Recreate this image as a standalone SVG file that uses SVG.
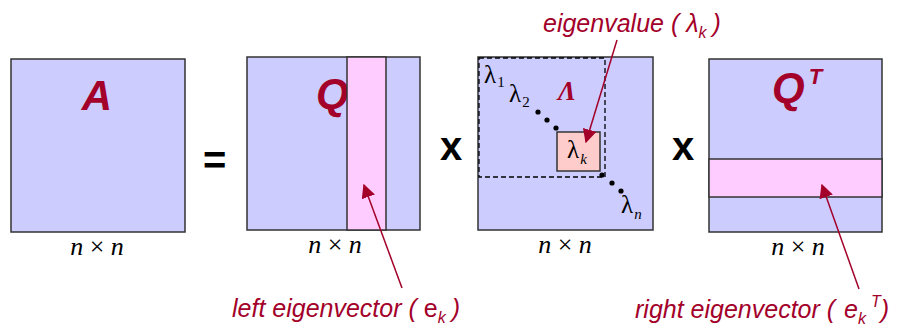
<svg xmlns="http://www.w3.org/2000/svg" width="905" height="333" viewBox="0 0 905 333">
<style>
.mat{fill:#CCCCFF;stroke:#333;stroke-width:1.5}
.strip{fill:#FFCCFF;stroke:#333;stroke-width:1.5}
.big{font-family:"Liberation Sans",Arial,sans-serif;font-weight:bold;font-style:italic;font-size:42px;fill:#A3002A}
.op{font-family:"Liberation Sans",Arial,sans-serif;font-weight:bold;font-size:40px;fill:#000}
.dim{font-family:"Liberation Serif","Times New Roman",serif;font-size:26px;fill:#000}
.lab{font-family:"Liberation Sans",Arial,sans-serif;font-style:italic;font-size:25px;fill:#A3002A}
.lam{font-family:"Liberation Serif","Times New Roman",serif;font-size:25px;fill:#000}
.sub{font-family:"Liberation Serif","Times New Roman",serif;font-size:15px;fill:#000}
.conn{stroke:#A3002A;stroke-width:1.5;fill:none;marker-end:url(#ah)}
</style>
<defs>
<marker id="ah" viewBox="0 0 10 10" refX="9" refY="5" markerWidth="14" markerHeight="14" markerUnits="userSpaceOnUse" orient="auto">
<path d="M0,0 L10,5 L0,10 z" fill="#A3002A"/>
</marker>
</defs>
<g id="matA">
<rect class="mat" x="11" y="59" width="174" height="173"/>
<text class="big" x="97" y="110" text-anchor="middle">A</text>
<text class="dim" x="97" y="255" text-anchor="middle"><tspan font-style="italic">n</tspan> × <tspan font-style="italic">n</tspan></text>
</g>
<g id="eq"><text class="op" x="203" y="174">=</text></g>
<g id="matQ">
<rect class="mat" x="247" y="57" width="173" height="173"/>
<text class="big" x="316" y="108">Q</text>
<rect class="strip" x="347" y="57" width="39" height="173"/>
<text class="dim" x="335" y="253" text-anchor="middle"><tspan font-style="italic">n</tspan> × <tspan font-style="italic">n</tspan></text>
</g>
<g id="x1"><text class="op" x="440" y="160">x</text></g>
<g id="matL">
<rect class="mat" x="478" y="57" width="175" height="173"/>
<rect x="479" y="58" width="126" height="119" fill="none" stroke="#000" stroke-width="1.3" stroke-dasharray="5,3"/>
<text x="558" y="100" font-family="'Liberation Serif','Times New Roman',serif" font-style="italic" font-weight="bold" font-size="27" fill="#A3002A">Λ</text>
<text class="lam" x="484" y="83">λ<tspan class="sub" dx="1" dy="4">1</tspan></text>
<text class="lam" x="509" y="102">λ<tspan class="sub" dx="1" dy="5">2</tspan></text>
<circle cx="538" cy="112" r="2.6"/><circle cx="547" cy="120" r="2.6"/><circle cx="556" cy="128" r="2.6"/>
<rect x="557" y="132" width="43" height="39" fill="#FFCCCC" stroke="#333" stroke-width="1.5"/>
<text class="lam" x="567" y="158">λ<tspan class="sub" font-style="italic" dx="1" dy="6">k</tspan></text>
<circle cx="602" cy="175" r="2.6"/><circle cx="612" cy="183" r="2.6"/><circle cx="621" cy="191" r="2.6"/>
<text class="lam" x="621" y="213">λ<tspan class="sub" font-style="italic" dx="1" dy="6">n</tspan></text>
<text class="dim" x="565" y="253" text-anchor="middle"><tspan font-style="italic">n</tspan> × <tspan font-style="italic">n</tspan></text>
</g>
<g id="x2"><text class="op" x="672" y="160">x</text></g>
<g id="matQT">
<rect class="mat" x="709" y="59" width="173" height="173"/>
<rect class="strip" x="709" y="159" width="173" height="38"/>
<text class="big" x="772" y="102">Q<tspan font-size="22" dx="4" dy="-18">T</tspan></text>
<text class="dim" x="798" y="255" text-anchor="middle"><tspan font-style="italic">n</tspan> × <tspan font-style="italic">n</tspan></text>
</g>
<g id="lblEigval"><text class="lab" x="543" y="32">eigenvalue (<tspan dx="7">λ</tspan><tspan font-size="16" dy="6">k</tspan><tspan dx="6" dy="-6">)</tspan></text></g>
<g id="lblLeft"><text class="lab" x="232" y="317">left eigenvector (<tspan dx="7" font-style="normal">e</tspan><tspan font-size="16" dy="6">k</tspan><tspan dx="6" dy="-6">)</tspan></text></g>
<g id="lblRight"><text class="lab" x="635" y="318">right eigenvector (<tspan dx="9">e</tspan><tspan font-size="16" dy="6">k</tspan><tspan font-size="16" dx="5" dy="-17">T</tspan><tspan dy="11">)</tspan></text></g>
<g id="connectors">
<line class="conn" x1="617" y1="40" x2="586" y2="142"/>
<line class="conn" x1="402" y1="288" x2="364" y2="185"/>
<line class="conn" x1="859" y1="289" x2="822" y2="185"/>
</g>
</svg>
